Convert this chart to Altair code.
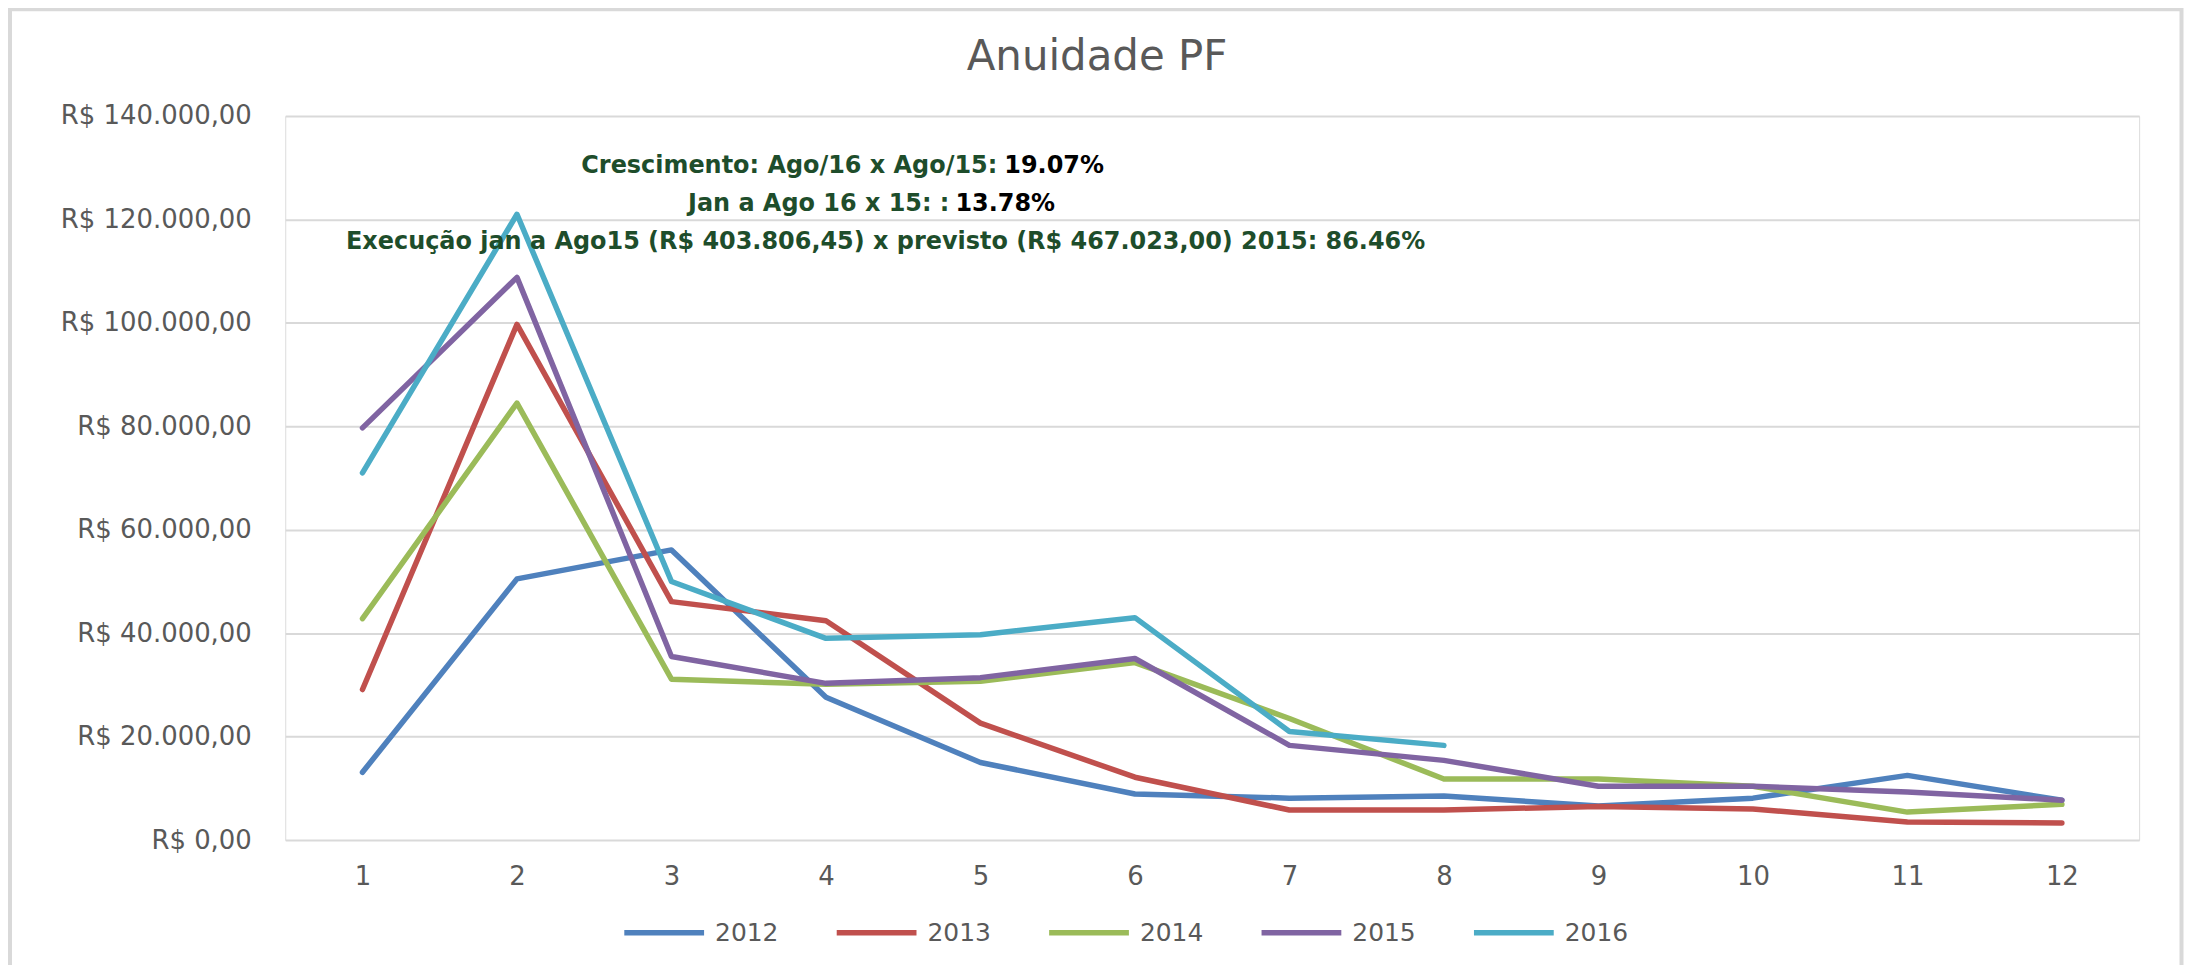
import json
import altair as alt
import pandas as pd

# ---- data ----
months = [1, 2, 3, 4, 5, 6, 7, 8, 9, 10, 11, 12]
series_names = ["2012", "2013", "2014", "2015", "2016"]
v2012 = [13100, 50500, 56100, 27600, 15000, 8900, 8100, 8500, 6600, 8100, 12500, 7700]
v2013 = [29100, 99700, 46100, 42400, 22600, 12150, 5800, 5800, 6500, 6000, 3500, 3300]
v2014 = [42800, 84500, 31100, 30100, 30700, 34300, 23500, 11800, 11800, 10400, 5400, 6900]
v2015 = [79700, 108800, 35500, 30300, 31400, 35100, 18300, 15400, 10400, 10400, 9300, 7700]
v2016 = [71000, 121000, 50000, 39000, 39700, 43000, 21000, 18300]
colors = ["#4F81BD", "#C0504D", "#9BBB59", "#8064A2", "#4BACC6"]

y_ticks = [0, 20000, 40000, 60000, 80000, 100000, 120000, 140000]
y_tick_labels = ["R$ 0,00", "R$ 20.000,00", "R$ 40.000,00", "R$ 60.000,00",
                 "R$ 80.000,00", "R$ 100.000,00", "R$ 120.000,00", "R$ 140.000,00"]

title_text = "Anuidade PF"
ann1_green = "Crescimento: Ago/16 x Ago/15: "
ann1_black = "19.07%"
ann2_green = "Jan a Ago 16 x 15: : "
ann2_black = "13.78%"
ann3_green = "Execução jan a Ago15 (R$ 403.806,45) x previsto (R$ 467.023,00) 2015: 86.46%"

rows = []
for name, vals in zip(series_names, [v2012, v2013, v2014, v2015, v2016]):
    for m, v in zip(months, vals):
        rows.append({"mes": m, "valor": v, "ano": name})
df = pd.DataFrame(rows)

W, H = 1859, 726
FONT = "DejaVu Sans"
GRAY = "#595959"
GREEN = "#1E4D2B"

label_expr = f"{json.dumps(y_tick_labels)}[indexof({json.dumps(y_ticks)}, datum.value)]"

lines = alt.Chart(df).mark_line(strokeWidth=5.5, strokeCap="round", strokeJoin="round").encode(
    x=alt.X("mes:O", scale=alt.Scale(type="point", padding=0.5, domain=months),
            axis=alt.Axis(title=None, labelAngle=0, ticks=False, domain=False, grid=False,
                          labelFont=FONT, labelFontSize=26, labelColor=GRAY, labelPadding=24)),
    y=alt.Y("valor:Q", scale=alt.Scale(domain=[0, 140000], nice=False),
            axis=alt.Axis(title=None, values=y_ticks, labelExpr=label_expr, ticks=False, domain=False,
                          grid=True, gridColor="#D9D9D9", gridWidth=2, labelLimit=400,
                          labelFont=FONT, labelFontSize=26, labelColor=GRAY, labelPadding=34)),
    color=alt.Color("ano:N", scale=alt.Scale(domain=series_names, range=colors),
                    legend=alt.Legend(title=None, orient="none", legendX=337, legendY=776,
                                      direction="horizontal", symbolType="stroke",
                                      symbolSize=6400, symbolStrokeWidth=5.5,
                                      labelFont=FONT, labelFontSize=25, labelColor=GRAY,
                                      labelOffset=8, columnPadding=47, padding=0)),
    order=alt.Order("mes:O"),
)

frame = alt.Chart().mark_rect(fill=None, stroke="#D9D9D9", strokeWidth=4).encode(
    x=alt.value(-276), x2=alt.value(1901.5), y=alt.value(-107), y2=alt.value(900)
)

title = alt.Chart().mark_text(text=title_text, align="center", baseline="alphabetic", font=FONT,
                              fontSize=42, color=GRAY).encode(x=alt.value(814), y=alt.value(-46))

def txt(text, x, y, align, color):
    return alt.Chart().mark_text(text=text, align=align, baseline="alphabetic", font=FONT,
                                 fontSize=24, fontWeight="bold", color=color).encode(
        x=alt.value(x), y=alt.value(y))

ann = (txt(ann1_green, 714, 57, "right", GREEN) + txt(ann1_black, 721, 57, "left", "#000000")
       + txt(ann2_green, 666, 95, "right", GREEN) + txt(ann2_black, 672, 95, "left", "#000000")
       + txt(ann3_green, 602, 133, "center", GREEN))

chart = alt.layer(frame, title, lines, ann).properties(
    width=W, height=H,
    autosize=alt.AutoSizeParams(type="none"),
    padding={"left": 278, "top": 107, "right": 45, "bottom": 124},
).configure_view(stroke=None).configure(background="white")

chart.save("out.html", embed_options={"renderer": "svg", "actions": False})
